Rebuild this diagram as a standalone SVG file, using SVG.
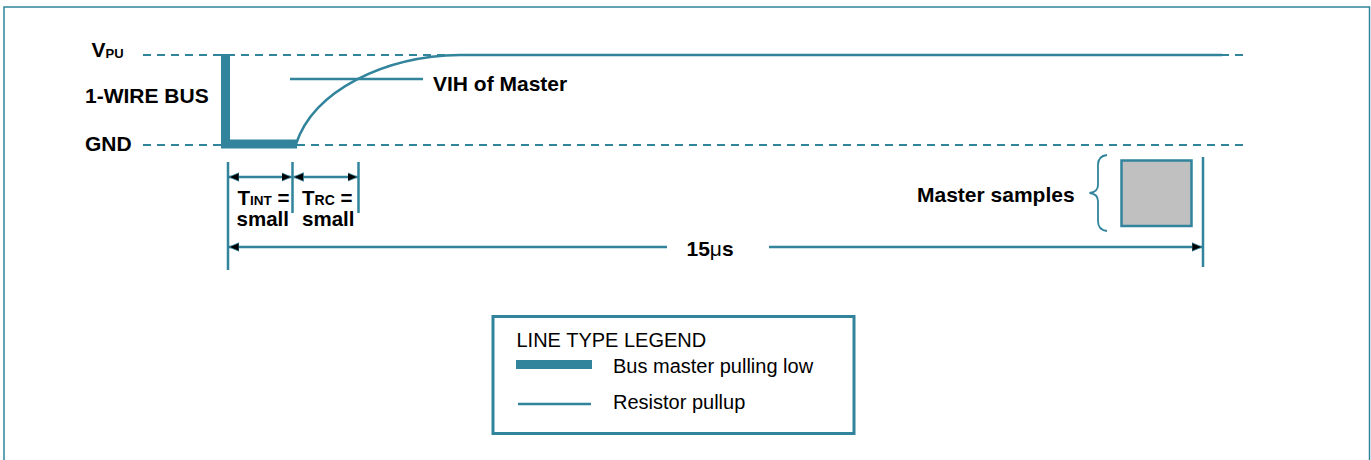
<svg xmlns="http://www.w3.org/2000/svg" width="1371" height="460" viewBox="0 0 1371 460">
  <style>
    .lbl { font-family: "Liberation Sans", Arial, sans-serif; font-weight: bold; font-size: 21px; fill: #000; }
    .tl { font-family: "Liberation Sans", Arial, sans-serif; font-weight: bold; font-size: 20.5px; fill: #000; }
    .leg { font-family: "Liberation Sans", Arial, sans-serif; font-size: 20px; fill: #000; }
    .dash { stroke: #31849B; stroke-width: 2; stroke-dasharray: 8 6; fill: none; }
    .thin { stroke: #31849B; stroke-width: 2.5; fill: none; }
    .thick { stroke: #31849B; stroke-width: 9; fill: none; }
    .dim { stroke: #31849B; stroke-width: 2.5; fill: none; }
  </style>
  <defs>
    <marker id="arr" viewBox="0 0 10 10" refX="10" refY="5" markerWidth="10" markerHeight="10" markerUnits="userSpaceOnUse" orient="auto-start-reverse">
      <path d="M0,0.8 L10,5 L0,9.2 Z" fill="#000" stroke="#31849B" stroke-width="0.8"/>
    </marker>
  </defs>

  <rect id="frame" x="4" y="7" width="1365.5" height="470" fill="#fff" stroke="#31849B" stroke-width="1.5"/>

  <g id="levels">
    <line class="dash" x1="143" y1="55" x2="1243" y2="55"/>
    <line class="dash" x1="143" y1="145" x2="1243" y2="145"/>
  </g>

  <g id="axis-labels">
    <text class="lbl" x="91.5" y="57">V<tspan font-size="13" dy="1">PU</tspan></text>
    <text class="lbl" x="85" y="103">1-WIRE BUS</text>
    <text class="lbl" x="85" y="151">GND</text>
  </g>

  <g id="bus-waveform">
    <polyline class="thick" points="225.5,54 225.5,144 297,144" stroke-linejoin="miter" stroke-linecap="butt"/>
    <path class="thin" stroke-width="3" d="M296,144 C314,90 385,56 460,55 L1222,55"/>
  </g>

  <g id="vih">
    <line class="thin" stroke-width="2" x1="290" y1="79" x2="423" y2="79"/>
    <text class="lbl" x="433" y="91">VIH of Master</text>
  </g>

  <g id="connectors">
    <line class="dim" x1="228" y1="162" x2="228" y2="270"/>
    <line class="dim" x1="292.5" y1="162" x2="292.5" y2="213"/>
    <line class="dim" x1="358.5" y1="162" x2="358.5" y2="213"/>
    <line class="dim" x1="1203" y1="157" x2="1203" y2="267"/>
    <line class="dim" x1="229" y1="177" x2="291.5" y2="177" marker-start="url(#arr)" marker-end="url(#arr)"/>
    <line class="dim" x1="293.5" y1="177" x2="357.5" y2="177" marker-start="url(#arr)" marker-end="url(#arr)"/>
    <line class="dim" x1="229" y1="247" x2="667" y2="247" marker-start="url(#arr)"/>
    <line class="dim" x1="769" y1="247" x2="1202" y2="247" marker-end="url(#arr)"/>
  </g>

  <g id="timing-labels">
    <text class="tl" x="237.5" y="205">T<tspan font-size="13.5">INT</tspan> =</text>
    <text class="tl" x="236.5" y="226">small</text>
    <text class="tl" x="302" y="205">T<tspan font-size="14">RC</tspan> =</text>
    <text class="tl" x="302" y="226">small</text>
    <text class="lbl" x="686.5" y="256">15<tspan font-weight="normal">μ</tspan>s</text>
  </g>

  <g id="master-samples">
    <text class="lbl" x="917" y="202">Master samples</text>
    <path d="M1107,155 Q1098,156 1098,165 L1098,185 Q1098,192 1089.5,193 Q1098,194 1098,201 L1098,221 Q1098,230 1107,231" fill="none" stroke="#31849B" stroke-width="1.8"/>
    <rect x="1121.5" y="160.5" width="70" height="65.5" fill="#C0C0C0" stroke="#31849B" stroke-width="2.5"/>
  </g>

  <g id="legend">
    <rect x="493" y="316.5" width="361" height="117" fill="#fff" stroke="#31849B" stroke-width="3"/>
    <text class="leg" x="516.5" y="347">LINE TYPE LEGEND</text>
    <line class="thick" x1="516" y1="364.5" x2="592" y2="364.5"/>
    <text class="leg" x="613" y="372.5">Bus master pulling low</text>
    <line class="thin" x1="518" y1="404" x2="591" y2="404"/>
    <text class="leg" x="613" y="409">Resistor pullup</text>
  </g>
</svg>
